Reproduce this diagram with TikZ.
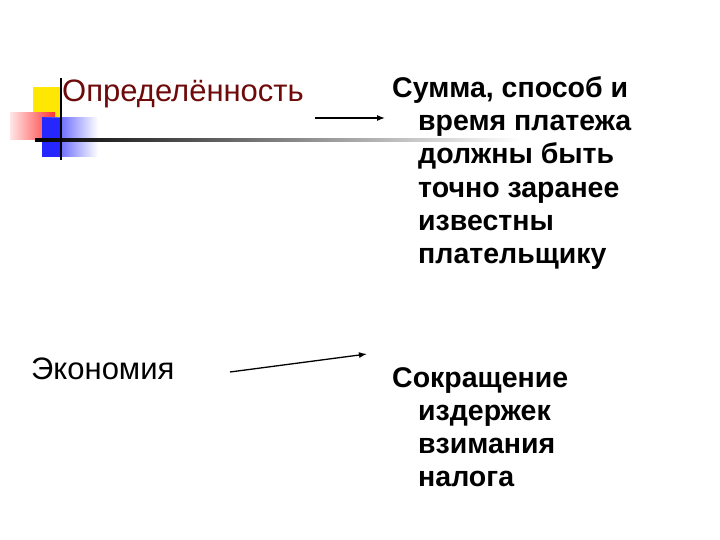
\documentclass[tikz,border=0pt]{standalone}
\usepackage{fontspec}
\usetikzlibrary{arrows.meta}
\setmainfont{Liberation Sans}
\begin{document}
\begin{tikzpicture}[x=1pt,y=-1pt,
 lt/.style={anchor=base west,inner sep=0,font=\fontsize{31}{36}\selectfont},
 rt/.style={anchor=base west,inner sep=0,font=\fontsize{28.5}{34}\selectfont\bfseries},
 arr/.style={-{Latex[length=8pt,width=6pt]},line width=1.3pt}]
\useasboundingbox[fill=white] (0,0) rectangle (720,540);
\definecolor{dred}{RGB}{110,10,10}
% decoration
\fill[yellow!90!orange] (33,87) rectangle (62,118);
\shade[left color=red!10,right color=red!80] (10,113) rectangle (55,140);
\shade[left color=blue!85,right color=white] (42,118) rectangle (98,157);
\fill[blue!85] (42,118) rectangle (62,157);
\shade[left color=black,right color=white] (35,139) rectangle (520,141.5);
\draw[line width=1.6pt] (61,78) -- (61,160);
% left labels
\node[lt,text=dred] (a) at (62,102) {Определённость};
\node[lt] (b) at (31,379) {Экономия};
% right texts
\node[rt] (c1) at (392,98) {Сумма, способ и};
\node[rt] (c2) at (418,131) {время платежа};
\node[rt] (c3) at (418,164) {должны быть};
\node[rt] (c4) at (418,197) {точно заранее};
\node[rt] (c5) at (418,230) {известны};
\node[rt] (c6) at (418,263) {плательщику};
\node[rt] (d1) at (392,387) {Сокращение};
\node[rt] (d2) at (418,420) {издержек};
\node[rt] (d3) at (418,453) {взимания};
\node[rt] (d4) at (418,486) {налога};
% arrows
\coordinate (s1) at (315,118); \coordinate (e1) at (385,118);
\coordinate (s2) at (230,372); \coordinate (e2) at (367,354);
\draw[arr] (s1) -- (e1);
\draw[arr] (s2) -- (e2);
\end{tikzpicture}
\end{document}
